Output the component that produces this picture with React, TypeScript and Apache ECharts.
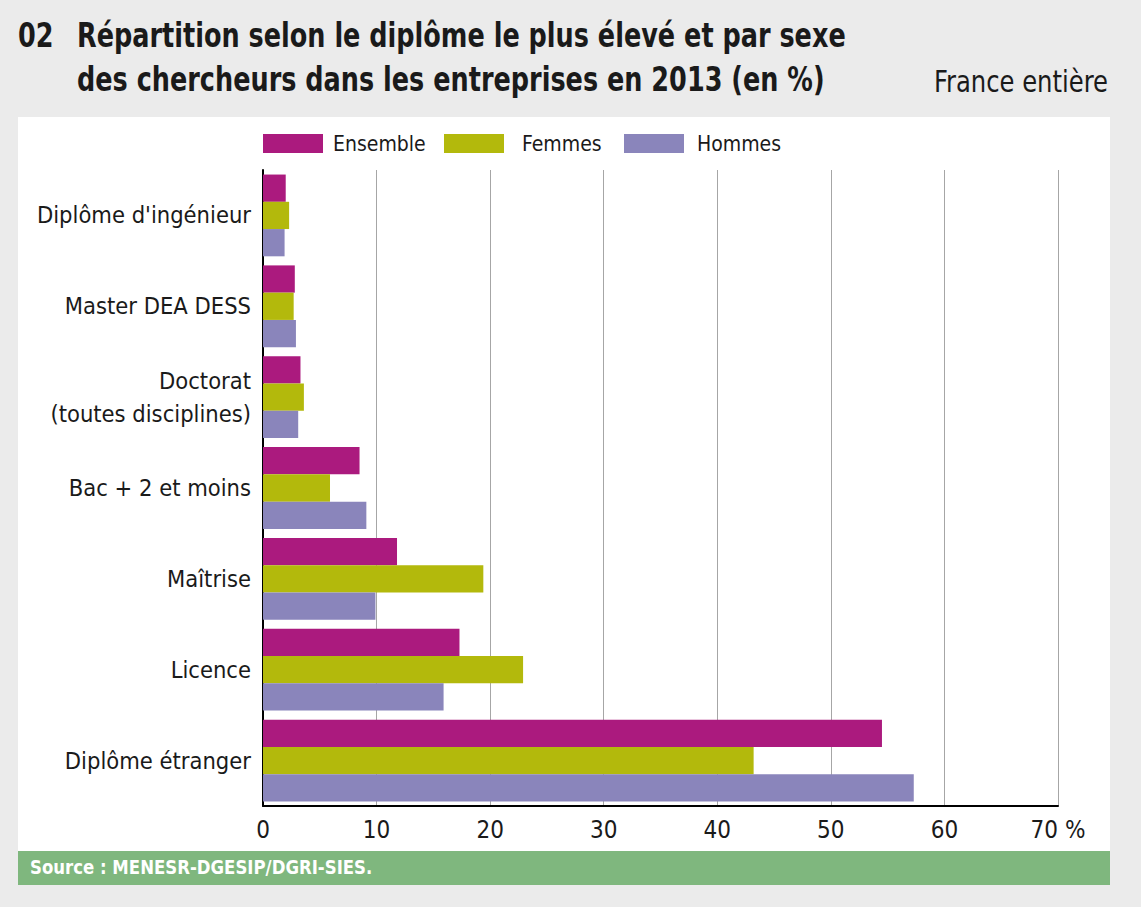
import React, { useEffect, useRef } from "react";
import * as echarts from "echarts";

const categories = [
  "Diplôme d'ingénieur",
  "Master DEA DESS",
  "Doctorat\n(toutes disciplines)",
  "Bac + 2 et moins",
  "Maîtrise",
  "Licence",
  "Diplôme étranger",
];
const ensemble = [2.0, 2.8, 3.3, 8.5, 11.8, 17.3, 54.5];
const femmes = [2.3, 2.7, 3.6, 5.9, 19.4, 22.9, 43.2];
const hommes = [1.9, 2.9, 3.1, 9.1, 9.9, 15.9, 57.3];
const seriesNames = ["Ensemble", "Femmes", "Hommes"];
const colors = ["#ab1a7e", "#b3b90c", "#8a85bb"];

const FONT = "'DejaVu Sans Condensed', 'Liberation Sans Narrow', sans-serif";
const INK = "#1a1a1a";

export default function App() {
  const ref = useRef<HTMLDivElement>(null);
  useEffect(() => {
    const chart = echarts.init(ref.current!, null, { renderer: "svg" });
    const data = [ensemble, femmes, hommes];
    const legendLefts = [263, 444, 624];
    const legendGaps = [5, 13, 8];
    chart.setOption({
      animation: false,
      backgroundColor: "#ebebeb",
      textStyle: { fontFamily: FONT },
      graphic: [
        { type: "rect", z: -10, shape: { x: 18, y: 117, width: 1092, height: 734 }, style: { fill: "#ffffff" } },
        { type: "rect", z: -10, shape: { x: 18, y: 851, width: 1092, height: 34 }, style: { fill: "#7fb77e" } },
        {
          type: "text", x: 18, y: 35, scaleX: 0.86,
          style: { text: "02", x: 0, y: 0, verticalAlign: "middle", fontFamily: FONT, fontWeight: "bold", fontSize: 33, fill: INK },
        },
        {
          type: "text", x: 77, y: 35, scaleX: 0.86,
          style: { text: "Répartition selon le diplôme le plus élevé et par sexe", x: 0, y: 0, verticalAlign: "middle", fontFamily: FONT, fontWeight: "bold", fontSize: 33, fill: INK },
        },
        {
          type: "text", x: 77, y: 79.5, scaleX: 0.86,
          style: { text: "des chercheurs dans les entreprises en 2013 (en %)", x: 0, y: 0, verticalAlign: "middle", fontFamily: FONT, fontWeight: "bold", fontSize: 33, fill: INK },
        },
        {
          type: "text", x: 1108, y: 82, scaleX: 0.9,
          style: { text: "France entière", x: 0, y: 0, align: "right", verticalAlign: "middle", fontFamily: FONT, fontSize: 30, fill: INK },
        },
        {
          type: "text", x: 30, y: 867, scaleX: 0.92,
          style: { text: "Source : MENESR-DGESIP/DGRI-SIES.", x: 0, y: 0, verticalAlign: "middle", fontFamily: FONT, fontWeight: "bold", fontSize: 20, fill: "#ffffff" },
        },
      ],
      legend: seriesNames.map((name, i) => ({
        left: legendLefts[i],
        top: 133,
        padding: 0,
        itemWidth: 60,
        itemHeight: 19,
        icon: "rect",
        textStyle: { fontFamily: FONT, fontSize: 21, color: INK, padding: [0, 0, 0, legendGaps[i]] },
        data: [name],
      })),
      grid: { left: 263, right: 83, top: 170, bottom: 101, containLabel: false },
      xAxis: {
        type: "value",
        min: 0,
        max: 70,
        interval: 10,
        axisLine: { show: true, lineStyle: { color: "#000", width: 2 } },
        axisTick: { show: false },
        splitLine: { show: true, lineStyle: { color: "#a6a6a6", width: 1 } },
        axisLabel: {
          fontFamily: FONT, fontSize: 24, color: INK, margin: 12,
          formatter: (v: number) => (v === 70 ? "70 %" : String(v)),
        },
      },
      yAxis: {
        type: "category",
        inverse: true,
        data: categories,
        axisLine: { show: true, lineStyle: { color: "#000", width: 2 } },
        axisTick: { show: false },
        axisLabel: { fontFamily: FONT, fontSize: 23.5, color: INK, margin: 12, lineHeight: 33 },
      },
      series: seriesNames.map((name, i) => ({
        name,
        type: "bar",
        data: data[i],
        barGap: "0%",
        barCategoryGap: "10%",
        itemStyle: { color: colors[i] },
      })),
    });
    return () => chart.dispose();
  }, []);
  return (
    <div
      ref={ref}
      style={{ position: "absolute", left: 0, top: 0, width: 1141, height: 907 }}
    />
  );
}
